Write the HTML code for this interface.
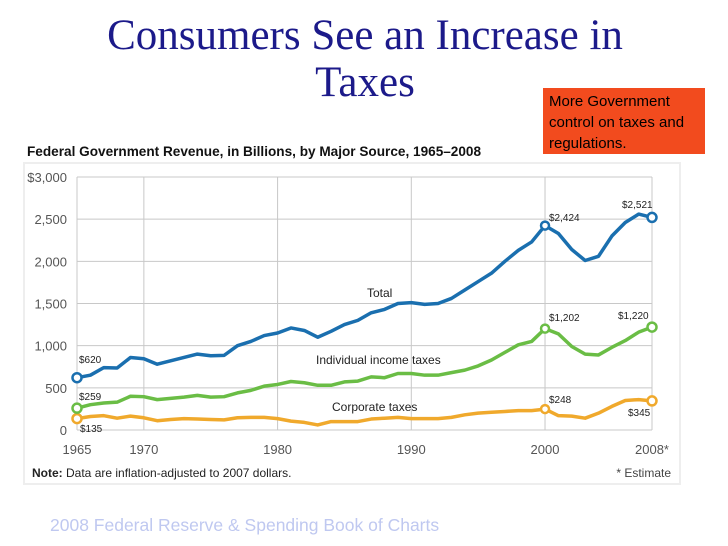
<!DOCTYPE html>
<html><head><meta charset="utf-8"><style>
body{margin:0;width:728px;height:546px;background:#fff;position:relative;overflow:hidden;font-family:"Liberation Sans",sans-serif}
#title{position:absolute;left:40px;width:650px;top:12px;text-align:center;font-family:"Liberation Serif",serif;font-size:43px;line-height:47px;color:#1c1a8a}
#callout{position:absolute;left:543px;top:88px;width:162px;height:66px;background:#f24b1e;padding:3px 0 0 6px;box-sizing:border-box;font-size:15px;line-height:21px;color:#000}
#subtitle{position:absolute;left:27px;top:144px;font-size:13.6px;font-weight:bold;color:#111}
#footer{position:absolute;left:50px;top:515px;font-size:17.5px;color:#bfc8f0}
svg{position:absolute;left:0;top:0}
</style></head><body>
<div id="title">Consumers See an Increase in<br>Taxes</div>
<div id="callout">More Government control on taxes and regulations.</div>
<div id="subtitle">Federal Government Revenue, in Billions, by Major Source, 1965–2008</div>
<div id="footer">2008 Federal Reserve &amp; Spending Book of Charts</div>
<svg id="chart" width="728" height="546"></svg>
<script>
const years=[];for(let y=1965;y<=2008;y++)years.push(y);
const totalVals=[620,650,740,735,860,845,780,820,860,900,880,885,1000,1050,1120,1150,1210,1180,1100,1170,1250,1300,1390,1430,1500,1510,1490,1500,1560,1660,1760,1860,2000,2130,2230,2424,2330,2140,2010,2060,2300,2460,2560,2521];
const indivVals=[259,300,320,330,400,395,360,375,390,410,390,395,440,470,520,540,575,560,530,530,570,580,630,620,670,670,650,650,680,710,760,830,920,1010,1050,1202,1140,990,900,890,980,1060,1160,1220];
const corpVals=[135,160,170,140,165,145,110,125,135,130,125,120,145,150,150,135,105,90,60,100,100,100,130,140,150,135,135,135,150,180,200,210,220,230,230,248,170,165,140,200,280,350,360,345];
const yTicks=[0,500,1000,1500,2000,2500,3000];
const yTickLabels=["0","500","1,000","1,500","2,000","2,500","$3,000"];
const xTicks=[1965,1970,1980,1990,2000,2008];
const xTickLabels=["1965","1970","1980","1990","2000","2008*"];
const ns="http://www.w3.org/2000/svg",svg=document.getElementById('chart');
const X=y=>77+(y-1965)*(652-77)/43, Y=v=>430-v*253/3000;
function mk(t,a,p){const e=document.createElementNS(ns,t);for(const k in a)e.setAttribute(k,a[k]);(p||svg).appendChild(e);return e;}
function tx(x,y,s,anchor,size,extra){const e=mk('text',Object.assign({x:x,y:y,'text-anchor':anchor||'start','font-size':size||12,fill:'#333','font-family':'Liberation Sans, sans-serif'},extra||{}));e.textContent=s;return e;}
const bg=mk('rect',{x:24,y:163,width:656,height:321,fill:'#fff',stroke:'#eee','stroke-width':2});

yTicks.forEach((v,i)=>{
 const l=mk('line',{x1:77,x2:652,y1:Y(v),y2:Y(v),stroke:'#c8c8c8','stroke-width':1});
 
 const t=tx(67,Y(v)+5,yTickLabels[i],'end',13,{fill:'#555'});
 
});
xTicks.forEach((yr,i)=>{
 const l=mk('line',{x1:X(yr),x2:X(yr),y1:Y(3000),y2:Y(0),stroke:'#c8c8c8','stroke-width':1});
 
 const t=tx(X(yr),454,xTickLabels[i],'middle',13,{fill:'#555'});
 
});
function series(vals,color,name){
 const p=mk('polyline',{points:vals.map((v,i)=>X(years[i])+','+Y(v)).join(' '),fill:'none',stroke:color,'stroke-width':3.5,'stroke-linejoin':'round'});
 
 [0,35,43].forEach(i=>{const c=mk('circle',{cx:X(years[i]),cy:Y(vals[i]),r:i==35?4:4.5,fill:'#fff',stroke:color,'stroke-width':2.5});
 });
}
series(corpVals,'#f0a92c','corporate');
series(indivVals,'#6abd45','individual');
series(totalVals,'#1a6faf','total');
function lab(x,y,s,n,sz){const t=tx(x,y,s,'start',sz||10,{fill:'#222'});}
lab(79,363,'$620','label-total-1965');lab(79,400,'$259','label-indiv-1965');lab(80,432,'$135','label-corp-1965');
lab(549,221,'$2,424','label-total-2000');lab(622,208,'$2,521','label-total-2008');
lab(549,321,'$1,202','label-indiv-2000');lab(618,319,'$1,220','label-indiv-2008');
lab(549,403,'$248','label-corp-2000');lab(628,416,'$345','label-corp-2008');
lab(367,297,'Total','series-label-total',12);lab(316,364,'Individual income taxes','series-label-individual',12);lab(332,411,'Corporate taxes','series-label-corporate',12);
const n=tx(32,477,'','start',12,{fill:'#222'});n.innerHTML='<tspan font-weight="bold">Note:</tspan> Data are inflation-adjusted to 2007 dollars.';

const e=tx(671,477,'* Estimate','end',12,{fill:'#444'});
</script>
</body></html>
